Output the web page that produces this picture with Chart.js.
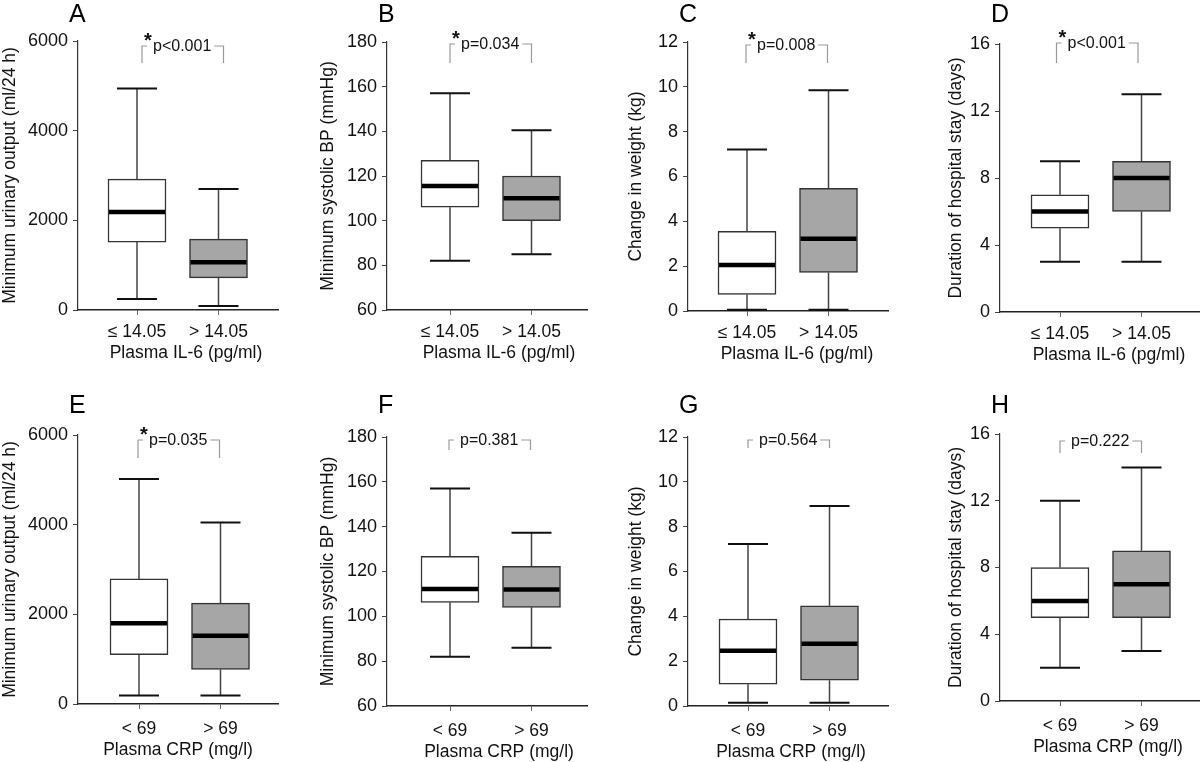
<!DOCTYPE html>
<html>
<head>
<meta charset="utf-8">
<script src="https://cdn.jsdelivr.net/npm/chart.js@4.4.0/dist/chart.umd.min.js"></script>
<style>
  body { margin: 0; background: #fff; }
  #wrap { position: relative; width: 1200px; height: 762px; overflow: hidden; }
  #wrap canvas { position: absolute; }
</style>
</head>
<body>
<div id="wrap"></div>
<script>
// x-axis groups
const il6Groups = ['≤ 14.05', '> 14.05'];
const crpGroups = ['< 69', '> 69'];

// box stats for each group: [min, q1, median, q3, max]
const urineIL6  = [[245, 1515, 2185, 2920, 4940], [90, 715, 1065, 1580, 2700]];
const sbpIL6    = [[82, 106, 115.5, 127, 157], [85, 100, 110, 120, 140.5]];
const weightIL6 = [[0.06, 0.74, 2.05, 3.55, 7.2], [0.06, 1.72, 3.22, 5.47, 9.85]];
const stayIL6   = [[3, 5, 6, 7, 9], [3, 6, 8, 9, 13]];
const urineCRP  = [[190, 1100, 1800, 2790, 5020], [190, 770, 1520, 2250, 4050]];
const sbpCRP    = [[82, 106.2, 112.2, 126.8, 157], [86, 104, 112, 122.3, 137.3]];
const weightCRP = [[0.15, 0.97, 2.47, 3.88, 7.23], [0.15, 1.15, 2.78, 4.47, 8.92]];
const stayCRP   = [[2, 5, 6, 8, 12], [3, 5, 7, 9, 14]];

const pLabels = ['p<0.001', 'p=0.034', 'p=0.008', 'p<0.001', 'p=0.035', 'p=0.381', 'p=0.564', 'p=0.222'];
const significant = [true, true, true, true, true, false, false, false];

const FONT = "'Liberation Sans', Arial, sans-serif";
const boxColors = ['#ffffff', '#a6a6a6'];

// layout of each small chart (page pixels)
const panels = [
  { letter: 'A', col: 0, row: 0, axis: 78,  top: 41,  bottom: 310, c1: 59, stats: urineIL6,  groups: il6Groups, yMax: 6000, yMin: 0,  step: 2000, yTitle: 'Minimum urinary output (ml/24 h)', xTitle: 'Plasma IL-6 (pg/ml)', titlePad: 0,  xShift: 8,  brTop: 5,  brLeg: 17, brShift: 5 },
  { letter: 'B', col: 1, row: 0, axis: 387, top: 42,  bottom: 310, c1: 63, stats: sbpIL6,    groups: il6Groups, yMax: 180,  yMin: 60, step: 20,   yTitle: 'Minimum systolic BP (mmHg)',       xTitle: 'Plasma IL-6 (pg/ml)', titlePad: 18, xShift: 12, brTop: 2,  brLeg: 19, brShift: 0 },
  { letter: 'C', col: 2, row: 0, axis: 688, top: 42,  bottom: 311, c1: 59, stats: weightIL6, groups: il6Groups, yMax: 12,   yMin: 0,  step: 2,    yTitle: 'Change in weight (kg)',            xTitle: 'Plasma IL-6 (pg/ml)', titlePad: 26, xShift: 9,  brTop: 3,  brLeg: 18, brShift: -1 },
  { letter: 'D', col: 3, row: 0, axis: 1000, top: 44, bottom: 312, c1: 60, stats: stayIL6,   groups: il6Groups, yMax: 16,   yMin: 0,  step: 4,    yTitle: 'Duration of hospital stay (days)', xTitle: 'Plasma IL-6 (pg/ml)', titlePad: 46, xShift: 9,  brTop: -1, brLeg: 20, brShift: -3.5 },
  { letter: 'E', col: 0, row: 1, axis: 78,  top: 435, bottom: 704, c1: 61, stats: urineCRP,  groups: crpGroups, yMax: 6000, yMin: 0,  step: 2000, yTitle: 'Minimum urinary output (ml/24 h)', xTitle: 'Plasma CRP (mg/l)',   titlePad: 0,  xShift: 0,  brTop: 5,  brLeg: 18, brShift: -1 },
  { letter: 'F', col: 1, row: 1, axis: 387, top: 437, bottom: 706, c1: 63, stats: sbpCRP,    groups: crpGroups, yMax: 180,  yMin: 60, step: 20,   yTitle: 'Minimum systolic BP (mmHg)',       xTitle: 'Plasma CRP (mg/l)',   titlePad: 18, xShift: 12, brTop: 3,  brLeg: 10, brShift: -1 },
  { letter: 'G', col: 2, row: 1, axis: 688, top: 437, bottom: 706, c1: 60, stats: weightCRP, groups: crpGroups, yMax: 12,   yMin: 0,  step: 2,    yTitle: 'Change in weight (kg)',            xTitle: 'Plasma CRP (mg/l)',   titlePad: 26, xShift: 3,  brTop: 3,  brLeg: 8,  brShift: 0 },
  { letter: 'H', col: 3, row: 1, axis: 1000, top: 434, bottom: 701, c1: 60, stats: stayCRP,  groups: crpGroups, yMax: 16,   yMin: 0,  step: 4,    yTitle: 'Duration of hospital stay (days)', xTitle: 'Plasma CRP (mg/l)',   titlePad: 46, xShift: 8,  brTop: 7,  brLeg: 12, brShift: 0 },
];

// whiskers, medians, significance bracket, panel letter and x title
const boxExtras = {
  id: 'boxExtras',
  beforeDatasetsDraw(chart, args, opts) {
    const { ctx, scales: { x, y } } = chart;
    opts.stats.forEach((s, i) => {
      const cx = x.getPixelForValue(i + 1);
      const lo = y.getPixelForValue(s[0]), q1 = y.getPixelForValue(s[1]);
      const q3 = y.getPixelForValue(s[3]), hi = y.getPixelForValue(s[4]);
      ctx.save();
      ctx.strokeStyle = '#444';
      ctx.lineWidth = 1.5;
      ctx.beginPath();
      ctx.moveTo(cx, q1); ctx.lineTo(cx, lo);
      ctx.moveTo(cx, q3); ctx.lineTo(cx, hi);
      ctx.stroke();
      ctx.strokeStyle = '#111';
      ctx.lineWidth = 2;
      ctx.beginPath();
      ctx.moveTo(cx - 20, lo); ctx.lineTo(cx + 20, lo);
      ctx.moveTo(cx - 20, hi); ctx.lineTo(cx + 20, hi);
      ctx.stroke();
      ctx.restore();
    });
  },
  afterDatasetsDraw(chart, args, opts) {
    const { ctx, scales: { x, y } } = chart;
    opts.stats.forEach((s, i) => {
      const cx = x.getPixelForValue(i + 1);
      const med = y.getPixelForValue(s[2]);
      ctx.save();
      ctx.strokeStyle = '#000';
      ctx.lineWidth = 4.5;
      ctx.beginPath();
      ctx.moveTo(cx - 28, med); ctx.lineTo(cx + 28, med);
      ctx.stroke();
      ctx.restore();
    });
  },
  afterDraw(chart, args, opts) {
    const { ctx, chartArea, scales: { x } } = chart;
    const x1 = x.getPixelForValue(1) + opts.brShift;
    const x2 = x.getPixelForValue(2) + opts.brShift;
    const by = chartArea.top + opts.brTop;
    ctx.save();
    ctx.font = '16px ' + FONT;
    const tx = x1 + 11;
    const tw = ctx.measureText(opts.p).width;
    ctx.strokeStyle = '#999';
    ctx.lineWidth = 1.2;
    ctx.beginPath();
    ctx.moveTo(x1, by + opts.brLeg); ctx.lineTo(x1, by); ctx.lineTo(x1 + 5, by);
    ctx.moveTo(tx + tw + 3, by); ctx.lineTo(x2, by); ctx.lineTo(x2, by + opts.brLeg);
    ctx.stroke();
    ctx.fillStyle = '#111';
    ctx.textBaseline = 'alphabetic';
    ctx.textAlign = 'left';
    ctx.fillText(opts.p, tx, by + 4.5);
    if (opts.sig) {
      ctx.font = 'bold 20px ' + FONT;
      ctx.fillText('*', x1 + 2, by + 1);
    }
    // panel letter
    ctx.font = '25px ' + FONT;
    ctx.fillStyle = '#000';
    ctx.fillText(opts.letter, chartArea.left - 9, opts.letterY);
    // x-axis title
    ctx.font = '17.5px ' + FONT;
    ctx.fillStyle = '#111';
    ctx.textAlign = 'center';
    ctx.fillText(opts.xTitle, (chartArea.left + chartArea.right) / 2 + opts.xShift, chartArea.bottom + opts.xTitleOff);
    ctx.restore();
  }
};

const wrap = document.getElementById('wrap');

panels.forEach((p, idx) => {
  const canvas = document.createElement('canvas');
  canvas.width = 300;
  canvas.height = 381;
  canvas.style.left = (p.col * 300) + 'px';
  canvas.style.top = (p.row * 381) + 'px';
  wrap.appendChild(canvas);

  const rowTop = p.row * 381;
  const colLeft = p.col * 300;
  const spacing = 81.5;
  const xMin = 1 - p.c1 / spacing;
  const xMax = xMin + 200 / spacing;

  new Chart(canvas.getContext('2d'), {
    type: 'bar',
    data: {
      datasets: [{
        data: p.stats.map((s, i) => ({ x: i + 1, y: [s[1], s[3]] })),
        backgroundColor: boxColors,
        borderColor: '#333',
        borderWidth: 1.5,
        borderSkipped: false,
        barThickness: 58,
      }],
    },
    options: {
      responsive: false,
      animation: false,
      layout: {
        padding: { top: p.top - rowTop, right: 300 - (p.axis - colLeft + 200), bottom: 0, left: 0 },
      },
      plugins: {
        legend: { display: false },
        tooltip: { enabled: false },
        boxExtras: {
          stats: p.stats,
          p: pLabels[idx],
          sig: significant[idx],
          brTop: p.brTop,
          brLeg: p.brLeg,
          brShift: p.brShift,
          letter: p.letter,
          letterY: p.row === 0 ? 22 : 32,
          xTitle: p.xTitle,
          xShift: p.xShift,
          xTitleOff: p.row === 0 ? 48 : 51,
        },
      },
      scales: {
        x: {
          type: 'linear',
          offset: false,
          min: xMin,
          max: xMax,
          afterBuildTicks: (s) => { s.ticks = [{ value: 1 }, { value: 2 }]; },
          afterFit: (s) => { s.height = rowTop + 381 - p.bottom; },
          ticks: {
            callback: (v) => p.groups[Math.round(v) - 1],
            font: { size: 17.5, family: FONT },
            color: '#111',
            padding: p.row === 0 ? 7 : 10,
            maxRotation: 0,
            autoSkip: false,
          },
          grid: { offset: false, drawOnChartArea: false, drawTicks: true, tickLength: 5, color: '#666' },
          border: { display: true, color: '#222', width: 1.4 },
        },
        y: {
          min: p.yMin,
          max: p.yMax,
          afterFit: (s) => { s.width = p.axis - colLeft; },
          ticks: {
            stepSize: p.step,
            callback: (v) => String(v),
            font: { size: 18, family: FONT },
            color: '#111',
            padding: 5,
          },
          grid: { drawOnChartArea: false, drawTicks: true, tickLength: 5, color: '#444' },
          border: { display: true, color: '#333', width: 1.2 },
          title: {
            display: true,
            text: p.yTitle,
            font: { size: 17.5, family: FONT, lineHeight: 1.2 },
            color: '#111',
            padding: { top: p.titlePad, bottom: 0 },
          },
        },
      },
    },
    plugins: [boxExtras],
  });
});
</script>
</body>
</html>
